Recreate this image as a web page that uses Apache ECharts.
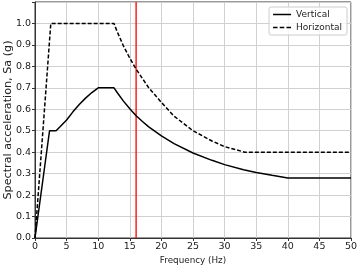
<!DOCTYPE html>
<html>
<head>
<meta charset="utf-8">
<script src="https://cdn.jsdelivr.net/npm/echarts@6/dist/echarts.min.js"></script>
<style>html,body{margin:0;padding:0;background:#fff}#c{width:357px;height:267px}</style>
</head>
<body>
<div id="c"></div>
<script>
var vertFreq = [0, 2.3, 3.33, 4, 5, 6, 7, 8, 9, 10, 12.5, 13, 14, 15, 16, 17, 18, 20, 22, 25, 28, 30, 33, 35, 37.5, 40, 50];
var vertSa   = [0, 0.5, 0.5, 0.52, 0.55, 0.588, 0.622, 0.652, 0.678, 0.7, 0.7, 0.678, 0.638, 0.602, 0.57, 0.543, 0.518, 0.476, 0.44, 0.396, 0.362, 0.342, 0.318, 0.305, 0.292, 0.28, 0.28];
var horFreq  = [0, 2.5, 12.5, 13, 14, 15, 16, 18, 20, 22, 25, 28, 30, 33.2, 50];
var horSa    = [0, 1.0, 1.0, 0.962, 0.895, 0.838, 0.787, 0.7, 0.632, 0.568, 0.5, 0.452, 0.426, 0.4, 0.4];
var redFreq  = 16;
var xTicks = [0, 5, 10, 15, 20, 25, 30, 35, 40, 45, 50];
var yTicks = [0.0, 0.1, 0.2, 0.3, 0.4, 0.5, 0.6, 0.7, 0.8, 0.9, 1.0];

function pairs(xs, ys){ return xs.map(function(x,i){ return [x, ys[i]]; }); }

var font = 'DejaVu Sans';
var chart = echarts.init(document.getElementById('c'), null, {renderer:'canvas'});
chart.setOption({
  animation: false,
  textStyle: {fontFamily: font},
  grid: {left: 35, right: 6, top: 2, bottom: 29, show: true, borderColor: '#333', borderWidth: 1,
         backgroundColor: 'transparent', containLabel: false, outerBoundsMode: 'none'},
  legend: {
    orient: 'vertical', right: 10, top: 7,
    itemWidth: 18, itemHeight: 2, itemGap: 4,
    padding: [3, 5, 3, 4],
    borderColor: '#ccc', borderWidth: 1, borderRadius: 2,
    backgroundColor: 'rgba(255,255,255,0.8)',
    textStyle: {fontFamily: font, fontSize: 9, color: '#222'},
    data: [
      {name: 'Vertical', icon: 'path://M0,0h18v1.5h-18z'},
      {name: 'Horizontal', icon: 'path://M0,0h4.5v1.5h-4.5z M6.7,0h4.5v1.5h-4.5z M13.4,0h4.6v1.5h-4.6z'}
    ]
  },
  xAxis: {
    type: 'value', min: 0, max: 50, interval: 5,
    name: 'Frequency (Hz)', nameLocation: 'middle', nameGap: 18, nameMoveOverlap: false,
    nameTextStyle: {fontFamily: font, fontSize: 8.8, color: '#222'},
    axisLine: {show: true, onZero: false, lineStyle: {color: '#333'}},
    axisTick: {show: true, length: 3, lineStyle: {color: '#333'}},
    axisLabel: {fontFamily: font, fontSize: 9.5, color: '#222', margin: 4,
      formatter: function(v){ return xTicks.indexOf(v) >= 0 ? String(v) : ''; }},
    splitLine: {show: true, lineStyle: {color: '#d0d0d0', width: 1}}
  },
  yAxis: {
    type: 'value', min: 0, max: 1.1, interval: 0.1,
    name: 'Spectral acceleration, Sa (g)', nameLocation: 'middle', nameGap: 21, nameMoveOverlap: false,
    nameTextStyle: {fontFamily: font, fontSize: 11.2, color: '#222'},
    axisLine: {show: true, lineStyle: {color: '#333'}},
    axisTick: {show: true, length: 3, lineStyle: {color: '#333'}},
    axisLabel: {fontFamily: font, fontSize: 9.5, color: '#222', margin: 4,
      formatter: function(v){
        for (var i = 0; i < yTicks.length; i++) { if (Math.abs(yTicks[i] - v) < 1e-6) return yTicks[i].toFixed(1); }
        return '';
      }},
    splitLine: {show: true, lineStyle: {color: '#d0d0d0', width: 1}}
  },
  series: [
    {
      name: 'Vertical', type: 'line', data: pairs(vertFreq, vertSa),
      symbol: 'none', smooth: false,
      lineStyle: {color: '#000', width: 1.5},
      itemStyle: {color: '#000'}
    },
    {
      name: 'Horizontal', type: 'line', data: pairs(horFreq, horSa),
      symbol: 'none', smooth: false,
      lineStyle: {color: '#000', width: 1.5, type: [4, 2]},
      itemStyle: {color: '#000'}
    },
    {
      name: 'redline', type: 'line', data: [[redFreq, 0], [redFreq, 1.1]],
      symbol: 'none', lineStyle: {color: '#ff2020', width: 1.5}, z: 1
    }
  ]
});
</script>
</body>
</html>
